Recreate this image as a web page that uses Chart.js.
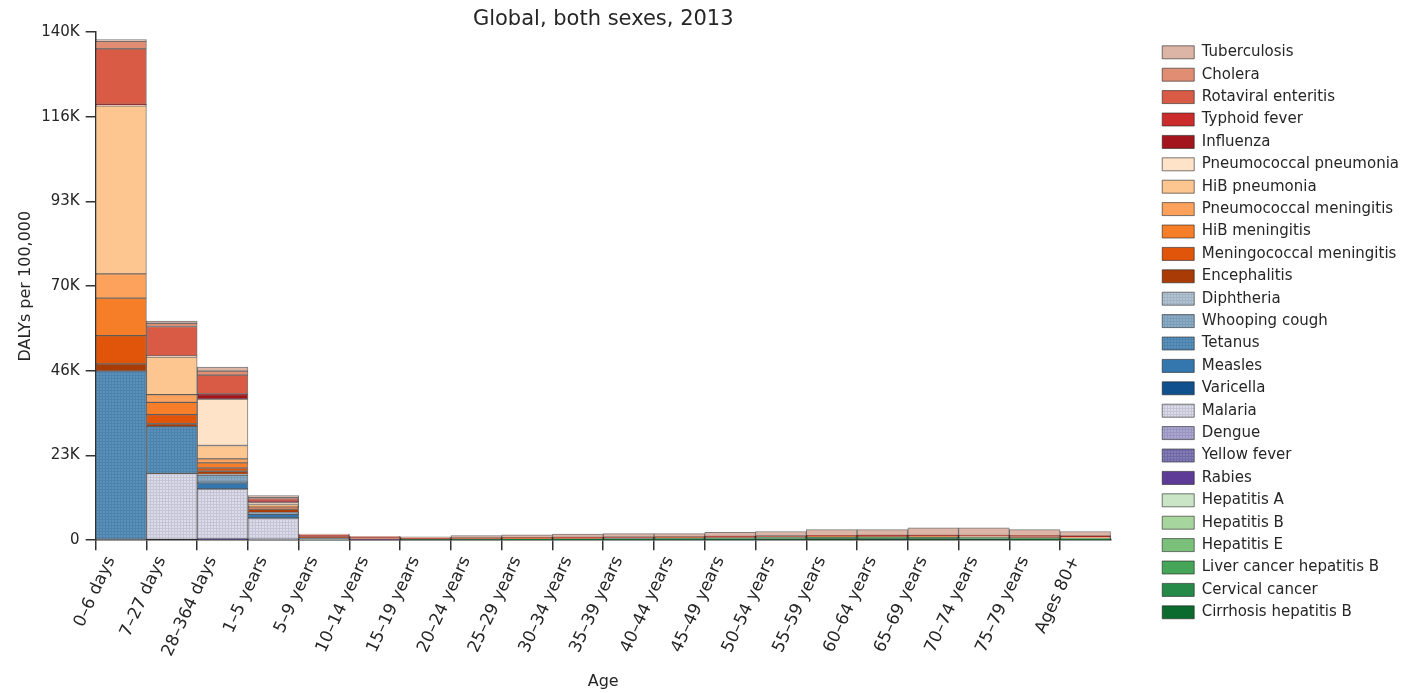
<!DOCTYPE html>
<html>
<head>
<meta charset="utf-8">
<script src="https://cdn.jsdelivr.net/npm/chart.js@4.4.1/dist/chart.umd.min.js"></script>
<style>
  html, body { margin: 0; padding: 0; background: #ffffff; }
  #wrap { width: 1409px; height: 693px; }
</style>
</head>
<body>
<div id="wrap"><canvas id="c" width="1409" height="693"></canvas></div>
<script>
// ---------------- DATA ----------------
const ageGroups = ['0–6 days','7–27 days','28–364 days','1–5 years','5–9 years','10–14 years','15–19 years','20–24 years','25–29 years','30–34 years','35–39 years','40–44 years','45–49 years','50–54 years','55–59 years','60–64 years','65–69 years','70–74 years','75–79 years','Ages 80+'];

const yTickValues = [0, 23333.33, 46666.67, 70000, 93333.33, 116666.67, 140000];
const yTickLabels = ['0', '23K', '46K', '70K', '93K', '116K', '140K'];

// DALYs per 100,000 (stack order: bottom -> top)
const cirrhosisHepB     = [0,0,0,0,0,0,10, 50,80,120,160,200,260,300,350,350,350,320,280,200];
const cervicalCancer    = [0,0,0,0,0,0,0, 20,50,70,80,80,80,80,80,80,70,60,50,40];
const liverCancerHepB   = [0,0,0,0,0,0,10, 40,70,100,140,180,240,300,350,380,350,300,250,170];
const hepatitisE        = [0,0,0,0,0,0,0, 10,10,10,10,10,10,10,10,10,10,10,10,10];
const hepatitisB        = [0,0,0,0,0,0,0, 10,10,10,10,10,10,10,10,10,10,10,10,10];
const hepatitisA        = [0,0,0,50,30,0,0, 0,0,0,0,0,0,0,0,0,0,0,0,0];
const rabies            = [0,0,200,100,60,40,30, 20,20,20,20,20,20,20,20,20,20,20,20,20];
const yellowFever       = [0,0,100,50,0,0,0, 0,0,0,0,0,0,0,0,0,0,0,0,0];
const dengue            = [0,0,100,100,0,0,0, 0,0,0,0,0,0,0,0,0,0,0,0,0];
const malaria           = [300,18400,13700,5800,400,150,100, 80,80,80,70,70,70,60,60,60,60,60,60,80];
const varicella         = [0,0,100,100,0,0,0, 0,0,0,0,0,0,0,0,0,0,0,0,0];
const measles           = [0,0,1600,900,50,0,0, 0,0,0,0,0,0,0,0,0,0,0,0,0];
const tetanus           = [46300,12900,200,100,0,0,0, 0,0,0,0,0,0,0,0,0,0,0,0,0];
const whoopingCough     = [0,0,1900,300,0,0,0, 0,0,0,0,0,0,0,0,0,0,0,0,0];
const diphtheria        = [0,0,200,100,0,0,0, 0,0,0,0,0,0,0,0,0,0,0,0,0];
const encephalitis      = [2000,800,900,1000,150,100,70, 60,60,60,60,60,60,60,60,60,60,60,70,80];
const meningococcalMen  = [7800,2500,900,500,100,80,60, 40,30,30,30,30,30,30,30,30,30,30,30,30];
const hibMeningitis     = [10300,3400,1400,200,0,0,0, 0,0,0,0,0,0,0,0,0,0,0,0,0];
const pneumococcalMen   = [6700,2100,1100,200,50,40,30, 30,30,30,30,30,30,30,30,30,30,30,30,30];
const hibPneumonia      = [46300,10400,3700,200,0,0,0, 0,0,0,0,0,0,0,0,0,0,0,0,0];
const pneumococcalPneu  = [300,200,12800,700,80,50,40, 40,40,40,40,50,60,70,90,100,120,150,180,220];
const influenza         = [100,100,1200,300,100,60,50, 40,40,40,50,50,60,70,80,90,110,130,150,170];
const typhoidFever      = [0,0,200,400,350,300,200, 150,120,100,80,70,60,50,40,30,30,30,30,20];
const rotaviralEnteritis= [15300,8100,5200,300,50,20,0, 10,10,10,10,10,10,20,20,30,30,40,50,80];
const cholera           = [2100,900,1100,300,80,60,40, 40,40,40,40,40,40,40,40,40,40,40,40,40];
const tuberculosis      = [500,600,1100,600,200,200,280, 660,810,940,970,890,1160,1250,1630,1580,2080,2110,1640,1200];

// ---------------- STYLE ----------------
function hatch(base, line) {
  const c = document.createElement('canvas');
  c.width = 3; c.height = 3;
  const g = c.getContext('2d');
  g.fillStyle = base; g.fillRect(0, 0, 3, 3);
  g.fillStyle = line;
  g.fillRect(0, 0, 3, 1);
  g.fillRect(0, 0, 1, 3);
  return g.createPattern(c, 'repeat');
}

const seriesDefs = [
  ['Cirrhosis hepatitis B', cirrhosisHepB, '#0b6a2e'],
  ['Cervical cancer', cervicalCancer, '#258a48'],
  ['Liver cancer hepatitis B', liverCancerHepB, '#45a558'],
  ['Hepatitis E', hepatitisE, '#7bc07a'],
  ['Hepatitis B', hepatitisB, '#a7d59e'],
  ['Hepatitis A', hepatitisA, '#cae5c5'],
  ['Rabies', rabies, '#5f3b98'],
  ['Yellow fever', yellowFever, hatch('#827db7', '#6f6aa6')],
  ['Dengue', dengue, hatch('#aaa8d0', '#9896c0')],
  ['Malaria', malaria, hatch('#dcdce8', '#c4c4d6')],
  ['Varicella', varicella, '#11508f'],
  ['Measles', measles, '#3477ae'],
  ['Tetanus', tetanus, hatch('#5a91ba', '#4c82ab')],
  ['Whooping cough', whoopingCough, hatch('#8bacc6', '#7b9db8')],
  ['Diphtheria', diphtheria, hatch('#b2c3d2', '#a2b4c4')],
  ['Encephalitis', encephalitis, '#a93b06'],
  ['Meningococcal meningitis', meningococcalMen, '#e1550a'],
  ['HiB meningitis', hibMeningitis, '#f67e28'],
  ['Pneumococcal meningitis', pneumococcalMen, '#fca25c'],
  ['HiB pneumonia', hibPneumonia, '#fdc690'],
  ['Pneumococcal pneumonia', pneumococcalPneu, '#fee3c9'],
  ['Influenza', influenza, '#a3141c'],
  ['Typhoid fever', typhoidFever, '#cb2b2b'],
  ['Rotaviral enteritis', rotaviralEnteritis, '#da5b45'],
  ['Cholera', cholera, '#e08d73'],
  ['Tuberculosis', tuberculosis, '#dcb5a6']
];

const datasets = seriesDefs.map(([label, data, color]) => ({
  label, data,
  backgroundColor: color,
  borderColor: 'rgba(35,35,35,0.6)',
  borderWidth: 1,
  borderSkipped: false,
  barPercentage: 1,
  categoryPercentage: 1
}));

Chart.defaults.font.family = '"DejaVu Sans", sans-serif';
Chart.defaults.font.size = 15;
Chart.defaults.color = '#262626';

const LEGEND_GAP = 44;
const legendGap = {
  id: 'legendGap',
  afterInit(chart) {
    const lg = chart.legend;
    if (!lg) return;
    const fit = lg.fit;
    lg.fit = function () { fit.call(this); this.width += LEGEND_GAP; };
    const draw = lg.draw;
    lg.draw = function (a) { this.left += LEGEND_GAP; draw.call(this, a); this.left -= LEGEND_GAP; };
  }
};

new Chart(document.getElementById('c'), {
  type: 'bar',
  data: { labels: ageGroups, datasets },
  plugins: [legendGap],
  options: {
    responsive: false,
    animation: false,
    layout: { padding: { left: 6, right: 0, top: 0, bottom: 0 } },
    scales: {
      x: {
        stacked: true,
        offset: true,
        grid: {
          offset: true, drawOnChartArea: false, drawTicks: true, tickLength: 10, lineWidth: 1.5,
          color: '#333',
          tickColor: (ctx) => (ctx.type === 'tick' && ctx.index < ageGroups.length) ? '#333' : 'rgba(0,0,0,0)'
        },
        border: { display: true, color: '#333', width: 1.5 },
        ticks: { autoSkip: false, minRotation: 65, maxRotation: 65, labelOffset: -10, padding: 3, color: '#262626', font: { size: 17 } },
        title: { display: true, text: 'Age', color: '#262626', font: { size: 16 }, padding: { top: 9, bottom: 2 } }
      },
      y: {
        stacked: true,
        min: 0, max: 140000,
        afterBuildTicks: (s) => { s.ticks = yTickValues.map(v => ({ value: v })); },
        grid: { drawOnChartArea: false, drawTicks: true, tickLength: 10, color: '#333', lineWidth: 1.5 },
        border: { display: true, color: '#333', width: 1.5 },
        ticks: { padding: 6, color: '#262626', font: { size: 15 }, callback: (v, i) => yTickLabels[i] },
        title: { display: true, text: 'DALYs per 100,000', color: '#262626', font: { size: 16 }, padding: { top: 10, bottom: 0 } }
      }
    },
    plugins: {
      title: {
        display: true, fullSize: false,
        text: 'Global, both sexes, 2013',
        color: '#262626',
        font: { size: 21, weight: 'normal' },
        padding: { top: 7, bottom: 0 }
      },
      legend: {
        position: 'right', align: 'start', reverse: true,
        title: { display: true, text: ' ', font: { size: 12 }, padding: { top: 19, bottom: 4 } },
        labels: { boxWidth: 32, boxHeight: 13, padding: 7.4, color: '#262626', font: { size: 15 } }
      },
      tooltip: { enabled: false }
    }
  }
});
</script>
</body>
</html>
